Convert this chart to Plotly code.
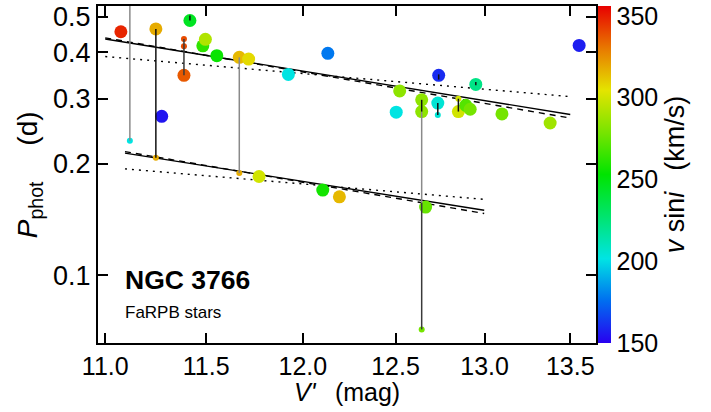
import plotly.graph_objects as go
import numpy as np

# ---- data ----
# main (large) points: V' magnitude, photometric period (d), v sini (km/s)
main_v = [11.076, 11.248, 11.418, 11.388, 11.483, 11.496, 11.554, 11.277, 11.669, 11.717,
          11.924, 12.133, 11.771, 12.106, 12.195, 13.553, 12.740, 12.950, 12.523, 12.504,
          12.645, 12.645, 12.735, 12.851, 12.893, 12.918, 13.100, 13.381, 12.667]
main_p = [0.455, 0.463, 0.488, 0.347, 0.417, 0.434, 0.392, 0.269, 0.388, 0.384,
          0.349, 0.398, 0.185, 0.170, 0.163, 0.418, 0.347, 0.328, 0.315, 0.276,
          0.298, 0.277, 0.292, 0.277, 0.288, 0.281, 0.273, 0.258, 0.153]
main_vsini = [348, 318, 245, 337, 263, 292, 255, 155, 315, 307,
              202, 178, 300, 257, 315, 157, 160, 222, 284, 202,
              284, 284, 205, 300, 271, 278, 278, 288, 275]

# secondary (small) period detections
sec_v = [11.120, 11.248, 11.388, 11.388, 11.669, 12.735, 12.851, 12.645]
sec_p = [0.231, 0.208, 0.435, 0.416, 0.189, 0.271, 0.300, 0.0715]
sec_vsini = [202, 318, 340, 340, 318, 205, 300, 278]

# links between periods of the same star
link_v = [11.120, 11.248, 11.388, 11.418, 11.669, 12.645, 12.645, 12.645, 12.735, 12.740, 12.851, 12.950]
link_p_from = [0.231, 0.208, 0.347, 0.488, 0.189, 0.298, 0.277, 0.157, 0.271, 0.349, 0.277, 0.333]
link_p_to = [0.60, 0.463, 0.435, 0.503, 0.388, 0.277, 0.157, 0.0715, 0.292, 0.338, 0.300, 0.326]
link_kind = ['gray', 'black', 'dark', 'black', 'gray', 'black', 'gray', 'dark', 'black', 'black', 'black', 'black']

# period-luminosity relations (end points)
upper_v = [11.0, 13.5]
upper_solid = [0.435, 0.272]
upper_dash = [0.438, 0.266]
upper_dot = [0.390, 0.304]
lower_v = [11.096, 12.998]
lower_solid = [0.214, 0.150]
lower_dash = [0.216, 0.147]
lower_dot = [0.194, 0.1605]

x_ticks = [11.0, 11.5, 12.0, 12.5, 13.0, 13.5]
x_ticklabels = ['11.0', '11.5', '12.0', '12.5', '13.0', '13.5']
y_ticks = [0.1, 0.2, 0.3, 0.4, 0.5]
y_ticklabels = ['0.1', '0.2', '0.3', '0.4', '0.5']
cbar_ticks = [150, 200, 250, 300, 350]

FONT = "Liberation Sans, Arial, sans-serif"
FS = 25
FT = 27
CMIN, CMAX = 150, 356
cscale = [[0.0, 'rgb(40,0,240)'], [0.125, 'rgb(0,110,240)'], [0.25, 'rgb(0,228,228)'],
          [0.375, 'rgb(0,228,110)'], [0.5, 'rgb(0,228,0)'], [0.625, 'rgb(120,228,0)'],
          [0.75, 'rgb(228,228,0)'], [0.875, 'rgb(232,120,0)'], [1.0, 'rgb(232,0,0)']]

fig = go.Figure()

# fit lines
for xs, ys, dash in [(upper_v, upper_solid, 'solid'), (upper_v, upper_dash, '6px,5px'),
                     (upper_v, upper_dot, '2px,5px'), (lower_v, lower_solid, 'solid'),
                     (lower_v, lower_dash, '6px,5px'), (lower_v, lower_dot, '2px,5px')]:
    fig.add_trace(go.Scatter(x=xs, y=ys, mode='lines',
                             line=dict(color='black', width=1.4, dash=dash),
                             showlegend=False, hoverinfo='skip'))

# large markers
fig.add_trace(go.Scatter(
    x=main_v, y=main_p, mode='markers',
    marker=dict(size=13, color=main_vsini, colorscale=cscale, cmin=CMIN, cmax=CMAX,
                line=dict(width=0),
                colorbar=dict(
                    x=1, xanchor='left', xpad=2, xref='paper',
                    y=0.5, yanchor='middle', len=1, lenmode='fraction', ypad=0,
                    thickness=13, outlinewidth=0, ticks='',
                    tickvals=cbar_ticks, ticktext=[str(t) for t in cbar_ticks],
                    tickfont=dict(family=FONT, size=FS, color='black'),
                    title=dict(text='<i>v</i> sin<i>i</i>\u2002 (km/s)', side='right',
                               font=dict(family=FONT, size=FT, color='black')))),
    showlegend=False))

# small markers
fig.add_trace(go.Scatter(
    x=sec_v, y=sec_p, mode='markers',
    marker=dict(size=6, color=sec_vsini, colorscale=cscale, cmin=CMIN, cmax=CMAX,
                line=dict(width=0)),
    showlegend=False))

# link lines
kind_color = {'gray': '#8a8a8a', 'black': '#111111', 'dark': '#3a3a3a'}
for kind, col in kind_color.items():
    xs, ys = [], []
    for v, p1, p2, k in zip(link_v, link_p_from, link_p_to, link_kind):
        if k == kind:
            xs += [v, v, None]
            ys += [p1, p2, None]
    fig.add_trace(go.Scatter(x=xs, y=ys, mode='lines', line=dict(color=col, width=1.5),
                             showlegend=False, hoverinfo='skip'))

axis_common = dict(showline=True, linewidth=2.2, linecolor='black', mirror='allticks',
                   ticks='inside', ticklen=10, tickwidth=2, tickcolor='black',
                   showgrid=False, zeroline=False, automargin=False)

fig.update_xaxes(type='log', range=[np.log10(10.965), np.log10(13.654)],
                 tickvals=x_ticks, ticktext=x_ticklabels,
                 tickfont=dict(family=FONT, size=FS, color='black'), **axis_common)
fig.update_yaxes(type='log', range=[np.log10(0.0657), np.log10(0.534)],
                 tickvals=y_ticks, ticktext=y_ticklabels,
                 tickfont=dict(family=FONT, size=27, color='black'), **axis_common)

# axis titles
fig.add_annotation(x=0.5, y=-0.145, xref='paper', yref='paper', xanchor='center', yanchor='middle',
                   text="<i>V'</i>\u2002 (mag)", showarrow=False,
                   font=dict(family=FONT, size=25, color='black'))
fig.add_annotation(x=-0.137, y=0.5, xref='paper', yref='paper', xanchor='center', yanchor='middle',
                   text='<i>P</i><sub>phot</sub>\u2003 (d)', showarrow=False, textangle=-90,
                   font=dict(family=FONT, size=28, color='black'))

fig.add_annotation(x=0.05, y=0.1855, xref='paper', yref='paper', xanchor='left', yanchor='middle',
                   text='<b>NGC 3766</b>', showarrow=False,
                   font=dict(family=FONT, size=26.5, color='black'))
fig.add_annotation(x=0.05, y=0.09, xref='paper', yref='paper', xanchor='left', yanchor='middle',
                   text='FaRPB stars', showarrow=False,
                   font=dict(family=FONT, size=17, color='black'))

fig.update_layout(width=711, height=412,
                  margin=dict(l=98, r=115, t=6, b=69, autoexpand=False),
                  paper_bgcolor='white', plot_bgcolor='white',
                  font=dict(family=FONT, color='black'))

fig.write_html("out.html", config={'displayModeBar': False},
               post_script="document.body.style.margin='0';document.body.style.overflow='hidden';")
